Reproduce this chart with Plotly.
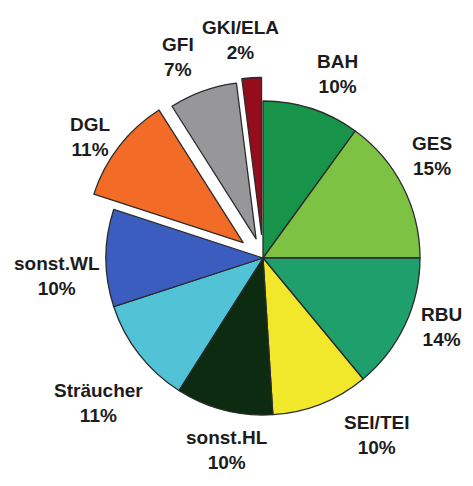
import math
import plotly.graph_objects as go

# Share of each group (percent), clockwise from 12 o'clock
labels = ["BAH", "GES", "RBU", "SEI/TEI", "sonst.HL", "Sträucher",
          "sonst.WL", "DGL", "GFI", "GKI/ELA"]
shares = [10, 15, 14, 10, 10, 11, 10, 11, 7, 2]
pulls = [0, 0, 0, 0, 0, 0, 0, 0.16, 0.13, 0.15]
colors = ["#18944a", "#7dc243", "#1f9f6c", "#f1e82b", "#0c2b10",
          "#52c3d7", "#3b5dc0", "#f26b27", "#979799", "#950d1d"]

W, H = 473, 486
cx, cy, R = 263, 258, 157          # pie centre and radius in pixels
half = R * (1 + max(pulls))        # plotly shrinks radius by the largest pull

FONT = "Liberation Sans, Arial, sans-serif"
FSIZE = 19

# Hand adjustments (px, screen coords) of each label away from its default spot
label_nudge = [(14, 1), (-2, -15), (5, -13), (39, -12), (14, -3),
               (11, 9), (6, 18), (1, 14), (-12, 2), (-9, -2)]

fig = go.Figure(go.Pie(
    labels=labels,
    values=shares,
    pull=pulls,
    sort=False,
    direction="clockwise",
    rotation=0,
    marker=dict(colors=colors, line=dict(color="#2b2b2b", width=1.3)),
    textinfo="none",
    showlegend=False,
    hoverinfo="label+value",
    domain=dict(x=[(cx - half) / W, (cx + half) / W],
                y=[(H - cy - half) / H, (H - cy + half) / H]),
))

# Two-line labels set just outside each slice, at its mid angle
total = sum(shares)
acc = 0
gap = 9
line_h = FSIZE * 1.3
for lab, val, p, (ndx, ndy) in zip(labels, shares, pulls, label_nudge):
    mid = (acc + val / 2) / total * 2 * math.pi
    acc += val
    s, c = math.sin(mid), math.cos(mid)
    box_w = max(len(lab), len(f"{val}%")) * 0.6 * FSIZE
    box_h = 2 * line_h
    r = R * (1 + p) + gap + abs(s) * box_w / 2 + abs(c) * box_h / 2
    px, py = cx + r * s + ndx, cy - r * c + ndy
    fig.add_annotation(
        x=px / W, y=1 - py / H, xref="paper", yref="paper",
        xanchor="center", yanchor="middle", showarrow=False,
        text=f"<b>{lab}</b><br><b>{val}%</b>",
        font=dict(family=FONT, size=FSIZE, color="#1c1c1c"),
    )

fig.update_layout(
    width=W, height=H,
    margin=dict(l=0, r=0, t=0, b=0),
    paper_bgcolor="white",
    plot_bgcolor="white",
)

fig.write_html("out.html")
